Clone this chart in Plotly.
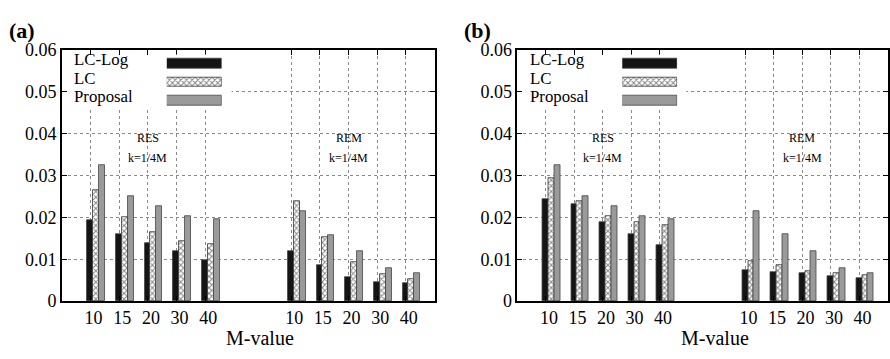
import plotly.graph_objects as go

# ---- data ----
m_labels = ["10", "15", "20", "30", "40", "10", "15", "20", "30", "40"]
slots = [0, 1, 2, 3, 4, 7, 8, 9, 10, 11]   # category slot of each group (RES: 0-4, REM: 7-11)
series_names = ["LC-Log", "LC", "Proposal"]

a_lclog = [0.0194, 0.0161, 0.0138, 0.0120, 0.0098, 0.0119, 0.0087, 0.0057, 0.0046, 0.0042]
a_lc = [0.0266, 0.0200, 0.0164, 0.0144, 0.0137, 0.0240, 0.0153, 0.0093, 0.0064, 0.0053]
a_prop = [0.0325, 0.0252, 0.0228, 0.0202, 0.0195, 0.0215, 0.0157, 0.0119, 0.0080, 0.0066]

b_lclog = [0.0244, 0.0232, 0.0189, 0.0161, 0.0134, 0.0075, 0.0069, 0.0067, 0.0060, 0.0055]
b_lc = [0.0293, 0.0240, 0.0204, 0.0190, 0.0182, 0.0096, 0.0085, 0.0071, 0.0068, 0.0063]
b_prop = [0.0325, 0.0252, 0.0228, 0.0202, 0.0195, 0.0215, 0.0159, 0.0119, 0.0080, 0.0066]

y_ticks = [0, 0.01, 0.02, 0.03, 0.04, 0.05, 0.06]
y_ticktext = ["0", "0.01", "0.02", "0.03", "0.04", "0.05", "0.06"]

# ---- style ----
FONT = "Liberation Serif"
W, H = 890, 359
BAR_W = 0.205
OFFSETS = [-0.118, 0.087, 0.292]
styles = [
    dict(color="#151515", line=dict(color="#444", width=0.8)),
    dict(color="white", line=dict(color="#333", width=0.8),
         pattern=dict(shape="x", fgcolor="#111", bgcolor="white", size=4, solidity=0.45)),
    dict(color="#9a9a9a", line=dict(color="#444", width=0.8)),
]

fig = go.Figure()

panels = [
    dict(xa="x", ya="y", data=[a_lclog, a_lc, a_prop]),
    dict(xa="x2", ya="y2", data=[b_lclog, b_lc, b_prop]),
]
for p in panels:
    for name, vals, st, off in zip(series_names, p["data"], styles, OFFSETS):
        fig.add_trace(go.Bar(x=slots, y=vals, name=name, width=BAR_W, offset=off,
                             marker=st, xaxis=p["xa"], yaxis=p["ya"], showlegend=False))

# legend swatches (gnuplot-style: text left, sample right)
leg_axes = [("x3", "y3"), ("x4", "y4")]
for xa, ya in leg_axes:
    for i, (name, st) in enumerate(zip(series_names, styles)):
        fig.add_trace(go.Bar(x=[1], y=[2 - i], base=0, orientation="h", width=0.52,
                             marker=st, xaxis=xa, yaxis=ya, showlegend=False, hoverinfo="skip"))

y_dom = [(H - 308.3) / H, (H - 42.5) / H]
x_doms = [[62 / W, 435 / W], [518 / W, 889 / W]]

def xaxis(dom, anchor):
    return dict(domain=dom, anchor=anchor, range=[-1, 12], tickmode="array",
                tickvals=slots, ticktext=m_labels, ticks="inside", ticklen=5,
                tickcolor="black", showline=True, linecolor="black", linewidth=1.5,
                mirror="ticks", showgrid=True, gridcolor="#8a8a8a", griddash="dot",
                gridwidth=1, zeroline=False, ticklabelshift=3,
                tickfont=dict(family=FONT, size=18, color="black"))

def yaxis(anchor):
    return dict(domain=y_dom, anchor=anchor, range=[0, 0.06], tickmode="array",
                tickvals=y_ticks, ticktext=y_ticktext, ticks="inside", ticklen=5,
                tickcolor="black", showline=True, linecolor="black", linewidth=1.5,
                mirror="ticks", showgrid=True, gridcolor="#8a8a8a", griddash="dot",
                gridwidth=1, zeroline=False,
                tickfont=dict(family=FONT, size=18, color="black"))

leg_y_dom = [(H - 105.75) / H, (H - 47.25) / H]

def legx(x0, anchor):
    return dict(domain=[(x0 + 105) / W, (x0 + 160) / W], anchor=anchor, range=[0, 1],
                visible=False, fixedrange=True)

def legy(anchor):
    return dict(domain=leg_y_dom, anchor=anchor, range=[-0.5, 2.5], visible=False,
                fixedrange=True)

fig.update_layout(
    width=W, height=H, margin=dict(l=0, r=0, t=0, b=0),
    paper_bgcolor="white", plot_bgcolor="white",
    barmode="overlay", bargap=0,
    font=dict(family=FONT, color="black"),
    xaxis=xaxis(x_doms[0], "y"), yaxis=yaxis("x"),
    xaxis2=xaxis(x_doms[1], "y2"), yaxis2=yaxis("x2"),
    xaxis3=legx(62, "y3"), yaxis3=legy("x3"),
    xaxis4=legx(518, "y4"), yaxis4=legy("x4"),
)

shapes = []
annotations = []
for (xa, ya), dom, tag in zip([("x", "y"), ("x2", "y2")], x_doms, ["(a)", "(b)"]):
    # opaque legend box hides grid lines behind the key
    shapes.append(dict(type="rect", xref=xa, yref=ya, x0=-1, x1=4.92, y0=0.0457, y1=0.06,
                       fillcolor="white", line=dict(width=0), layer="between"))
    for i, name in enumerate(series_names):
        annotations.append(dict(xref=xa, yref=ya, x=-0.6, y=0.0577 - i * 0.0044, text=name,
                                showarrow=False, xanchor="left", yanchor="middle",
                                borderpad=0,
                                font=dict(family=FONT, size=16.8, color="black")))
    for xc, lab in [(2, "RES"), (9, "REM")]:
        annotations.append(dict(xref=xa, yref=ya, x=xc, y=0.0391, text=lab, showarrow=False,
                                font=dict(family=FONT, size=12, color="black")))
        annotations.append(dict(xref=xa, yref=ya, x=xc, y=0.0342, text="k=1/4M",
                                showarrow=False, font=dict(family=FONT, size=12, color="black")))
    cx = (dom[0] + dom[1]) / 2 + 12 / W
    annotations.append(dict(xref="paper", yref="paper", x=cx, y=(H - 347) / H, text="M-value",
                            showarrow=False, xanchor="center", yanchor="middle",
                            font=dict(family=FONT, size=20, color="black")))
    annotations.append(dict(xref="paper", yref="paper", x=dom[0] - 40 / W, y=(H - 22) / H,
                            text="<b>" + tag + "</b>", showarrow=False, xanchor="center",
                            yanchor="middle", font=dict(family=FONT, size=22, color="black")))

fig.update_layout(shapes=shapes, annotations=annotations)
fig.write_html("out.html", config={"displayModeBar": False},
               post_script="document.body.style.margin='0';")
